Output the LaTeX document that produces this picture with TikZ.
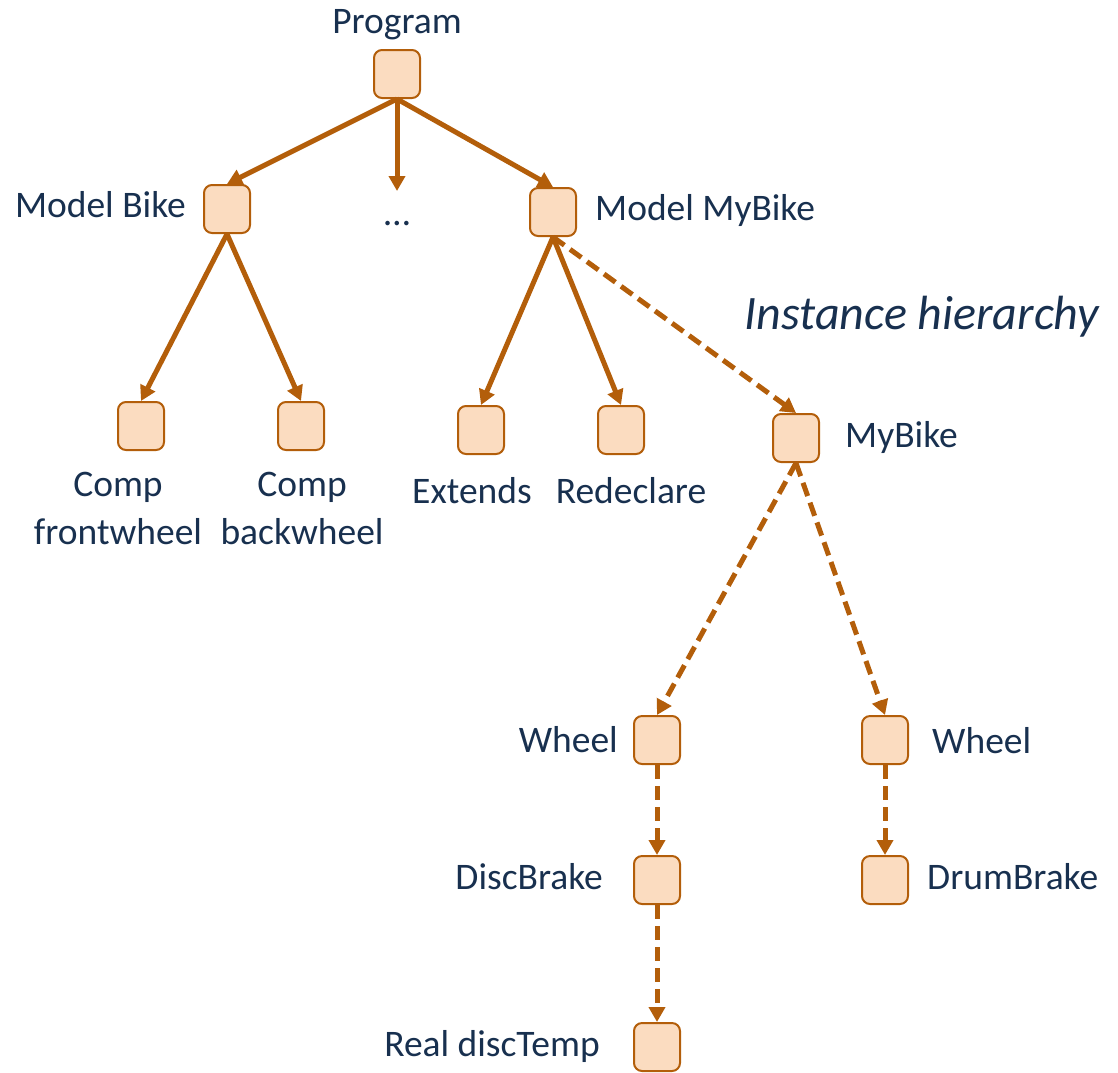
\documentclass[tikz,border=0pt]{standalone}
\usepackage{fontspec}
\setmainfont{Carlito}
\usetikzlibrary{arrows.meta}
\definecolor{pfeil}{HTML}{B35E0A}
\definecolor{kasten}{HTML}{FBDCC0}
\definecolor{schrift}{HTML}{18304F}
\tikzset{
  box/.style={draw=pfeil, fill=kasten, line width=2pt, rounded corners=8pt,
    minimum width=46pt, minimum height=48pt, inner sep=0pt},
  lbl/.style={text=schrift, font=\fontsize{37.5}{48}\selectfont, inner sep=0pt},
  edge/.style={draw=pfeil, line width=5pt, -{Triangle[length=15pt,width=16pt]}},
  inst/.style={edge, dash pattern=on 14pt off 7pt},
}
\begin{document}
\begin{tikzpicture}[x=1pt,y=-1pt]
            \useasboundingbox (0,0) rectangle (1118,1072);
            % Kaesten
            \node[box] (prog) at (397,74) {};
            \node[box] (bike) at (227,209) {};
            \node[box] (mybike) at (553,212) {};
            \node[box] (front) at (141,426) {};
            \node[box] (back) at (301,426) {};
            \node[box] (ext) at (481,430) {};
            \node[box] (redecl) at (621,430) {};
            \node[box] (inst) at (796,438) {};
            \node[box] (wheela) at (657,740) {};
            \node[box] (wheelb) at (885,740) {};
            \node[box] (disc) at (657,880) {};
            \node[box] (drum) at (885,880) {};
            \node[box] (temp) at (657,1047) {};
            \coordinate (dots) at (397,191);
            % Beschriftung
            \node[lbl, anchor=base] (tprog) at (397,33) {Program};
            \node[lbl, anchor=base east] (tbike) at (186,217) {Model Bike};
            \node[lbl, anchor=base west] (tmybike) at (595,220) {Model MyBike};
            \node[lbl, anchor=base] (tdots) at (397,225) {…};
            \node[lbl, anchor=base, font=\fontsize{48}{52}\selectfont\itshape] (thier) at (922,329) {Instance hierarchy};
            \node[lbl, anchor=base, align=center] (tfront) at (118,544) {Comp\\frontwheel};
            \node[lbl, anchor=base, align=center] (tback) at (302,544) {Comp\\backwheel};
            \node[lbl, anchor=base] (text) at (472,503) {Extends};
            \node[lbl, anchor=base] (tredecl) at (631,503) {Redeclare};
            \node[lbl, anchor=base west] (tinst) at (845,447) {MyBike};
            \node[lbl, anchor=base east] (twheela) at (618,752) {Wheel};
            \node[lbl, anchor=base west] (twheelb) at (932,753) {Wheel};
            \node[lbl, anchor=base east] (tdisc) at (603,889) {DiscBrake};
            \node[lbl, anchor=base west] (tdrum) at (927,889) {DrumBrake};
            \node[lbl, anchor=base east] (ttemp) at (600,1056) {Real discTemp};
            % Klassenhierarchie
            \draw[edge] (prog.south) -- (bike.north);
            \draw[edge] (prog.south) -- (dots);
            \draw[edge] (prog.south) -- (mybike.north);
            \draw[edge] (bike.south) -- (front.north);
            \draw[edge] (bike.south) -- (back.north);
            \draw[edge] (mybike.south) -- (ext.north);
            \draw[edge] (mybike.south) -- (redecl.north);
            % Instanzhierarchie
            \draw[inst] (mybike.south) -- (inst.north);
            \draw[inst] (inst.south) -- (wheela.north);
            \draw[inst] (inst.south) -- (wheelb.north);
            \draw[inst] (wheela.south) -- (disc.north);
            \draw[inst] (disc.south) -- (temp.north);
            \draw[inst] (wheelb.south) -- (drum.north);
\end{tikzpicture}
\end{document}
